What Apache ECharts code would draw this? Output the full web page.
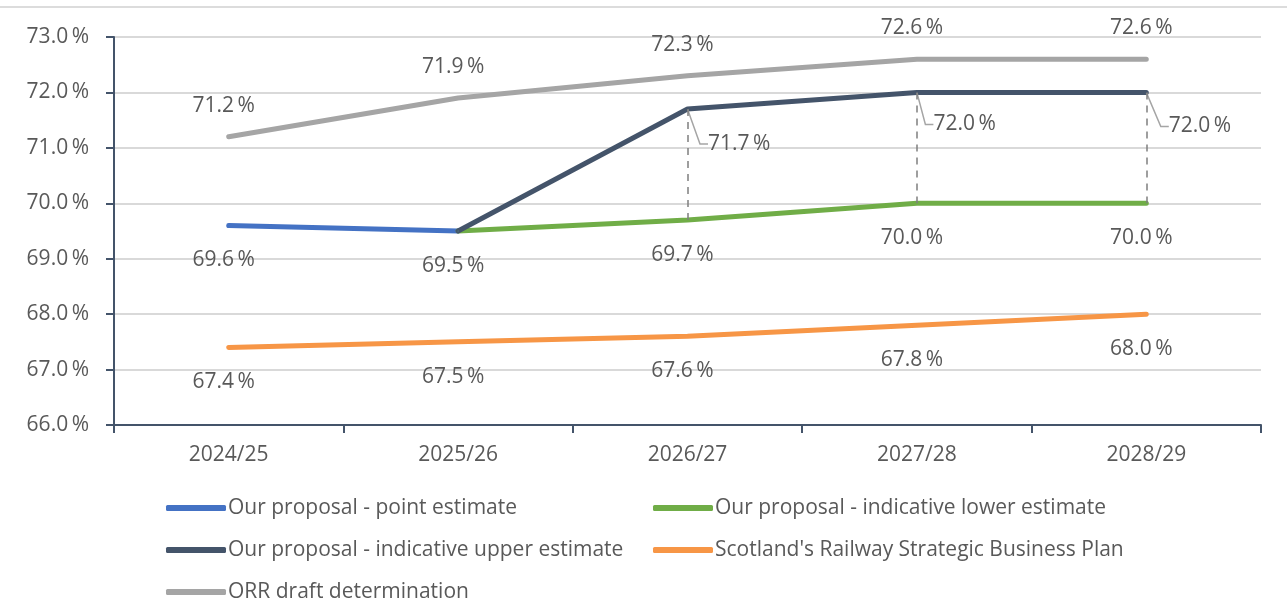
<!DOCTYPE html>
<html>
<head>
<meta charset="utf-8">
<title>Performance trajectory</title>
<script src="https://cdn.jsdelivr.net/npm/echarts@6/dist/echarts.min.js"></script>
<style>
  html, body { margin: 0; padding: 0; background: #ffffff; }
  #chart { width: 1287px; height: 603px; }
</style>
</head>
<body>
<div id="chart"></div>
<script>
// Years on the category axis
const years = ['2024/25', '2025/26', '2026/27', '2027/28', '2028/29'];

// Series values (%)
const pointEstimate = [69.6, 69.5, null, null, null];
const lowerEstimate = [null, 69.5, 69.7, 70.0, 70.0];
const upperEstimate = [null, 69.5, 71.7, 72.0, 72.0];
const scotlandPlan  = [67.4, 67.5, 67.6, 67.8, 68.0];
const orrDraft      = [71.2, 71.9, 72.3, 72.6, 72.6];

// Value-axis range
const yMin = 66, yMax = 73, yStep = 1;

// Which points carry a value label
const lowerLabelled = [false, false, true, true, true];
const upperLabelled = [false, false, true, true, true];

const FONT = '"Open Sans", "Noto Sans", sans-serif';
const TEXT = '#595959';
const FS = 21;
const fmt = v => v.toFixed(1) + '\u2009%';

function withLabels(values, flags) {
  return values.map((v, i) => {
    if (v == null) return null;
    return { value: v, label: { show: flags ? flags[i] : true } };
  });
}

function lineSeries(name, values, color, labelPos, flags) {
  return {
    name: name,
    type: 'line',
    data: withLabels(values, flags),
    connectNulls: false,
    symbol: 'circle',
    symbolSize: 1,
    showSymbol: true,
    lineStyle: { color: color, width: 5, cap: 'round', join: 'round' },
    itemStyle: { color: color },
    emphasis: { disabled: true },
    label: {
      show: true,
      position: labelPos,
      distance: labelPos === 'top' ? 20 : 24,
      offset: [-5, 0],
      color: TEXT,
      fontFamily: FONT,
      fontSize: FS,
      formatter: p => fmt(p.value)
    },
    animation: false
  };
}

// Dashed connectors between upper and lower estimates
const dropLines = [];
years.forEach((y, i) => {
  if (upperEstimate[i] != null && lowerEstimate[i] != null && upperEstimate[i] !== lowerEstimate[i]) {
    dropLines.push([{ coord: [y, upperEstimate[i]] }, { coord: [y, lowerEstimate[i]] }]);
  }
});

const upperSeries = lineSeries('Our proposal - indicative upper estimate', upperEstimate, '#44546A', 'right', upperLabelled);
upperSeries.label.distance = 0;
upperSeries.label.offset = [0, 0];
upperSeries.labelLayout = function (params) {
  if (params.dataIndex === 2) return { dx: 20, dy: 35 };
  if (params.dataIndex === 3) return { dx: 16, dy: 32 };
  return { dx: 22, dy: 34 };
};
upperSeries.labelLine = { show: true, length2: 8, lineStyle: { color: '#A5A5A5', width: 1.5 } };
upperSeries.markLine = {
  silent: true,
  symbol: 'none',
  label: { show: false },
  lineStyle: { color: '#7F7F7F', type: [7, 6], width: 1.5 },
  data: dropLines,
  animation: false
};

const series = [
  lineSeries('Our proposal - point estimate', pointEstimate, '#4472C4', 'bottom'),
  lineSeries('Our proposal - indicative lower estimate', lowerEstimate, '#70AD47', 'bottom', lowerLabelled),
  upperSeries,
  lineSeries("Scotland's Railway Strategic Business Plan", scotlandPlan, '#F79646', 'bottom'),
  lineSeries('ORR draft determination', orrDraft, '#A5A5A5', 'top')
];

const legendCommon = {
  orient: 'vertical',
  padding: 0,
  height: 110,
  itemWidth: 60,
  itemHeight: 6,
  itemGap: 18,
  icon: 'roundRect',
  selectedMode: false,
  textStyle: { color: TEXT, fontFamily: FONT, fontSize: FS, lineHeight: 24, padding: [0, 0, 0, -3] }
};

const chart = echarts.init(document.getElementById('chart'), null, { renderer: 'canvas' });
chart.setOption({
  backgroundColor: '#ffffff',
  animation: false,
  grid: { left: 114, right: 26, top: 37, bottom: 178, containLabel: false },
  xAxis: {
    type: 'category',
    data: years,
    boundaryGap: true,
    axisLine: { lineStyle: { color: '#44546A', width: 2 } },
    axisTick: { show: true, length: 8, lineStyle: { color: '#44546A', width: 2 } },
    axisLabel: { color: TEXT, fontFamily: FONT, fontSize: FS, margin: 20 }
  },
  yAxis: {
    type: 'value',
    min: yMin,
    max: yMax,
    interval: yStep,
    axisLine: { show: true, lineStyle: { color: '#44546A', width: 2 } },
    axisTick: { show: true, length: 8, lineStyle: { color: '#44546A', width: 2 } },
    axisLabel: { color: TEXT, fontFamily: FONT, fontSize: FS, margin: 25, formatter: v => fmt(v) },
    splitLine: { lineStyle: { color: '#D9D9D9', width: 2 } }
  },
  legend: [
    Object.assign({ left: 166, top: 496, data: [series[0].name, series[2].name, series[4].name] }, legendCommon),
    Object.assign({ left: 653, top: 496, data: [series[1].name, series[3].name] }, legendCommon)
  ],
  graphic: [{
    type: 'line',
    shape: { x1: 0, y1: 7, x2: 1287, y2: 7 },
    style: { stroke: '#D0D0D0', lineWidth: 1.5 },
    silent: true
  }],
  series: series
});
</script>
</body>
</html>
